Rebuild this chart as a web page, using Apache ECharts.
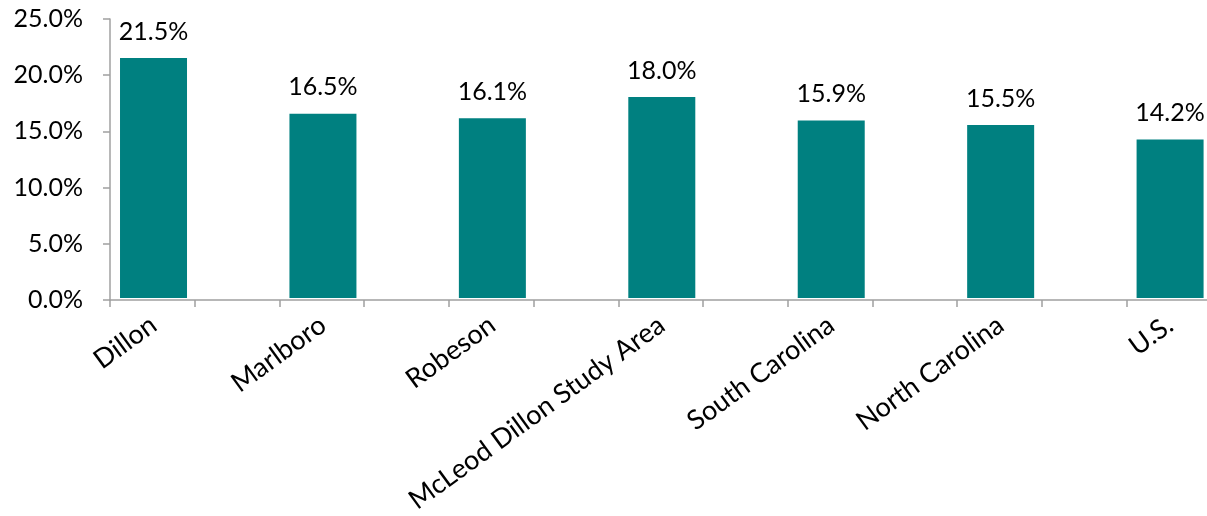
<!DOCTYPE html>
<html>
<head>
<meta charset="utf-8">
<script src="https://cdn.jsdelivr.net/npm/echarts@6/dist/echarts.min.js"></script>
<style>
html,body{margin:0;padding:0;background:#fff;overflow:hidden;width:1207px;height:516px;}
#chart{width:1310px;height:516px;}
</style>
</head>
<body>
<div id="chart"></div>
<script>
var categories = ["Dillon", "Marlboro", "Robeson", "McLeod Dillon Study Area", "South Carolina", "North Carolina", "U.S."];
var values = [21.5, 16.5, 16.1, 18.0, 15.9, 15.5, 14.2];
var yTicks = [0, 5, 10, 15, 20, 25];

var FONT = "Lato";
var FS = 25;
var chart = echarts.init(document.getElementById('chart'), null, {renderer: 'canvas'});
var option = {
  backgroundColor: '#fff',
  animation: false,
  grid: [
    {left: 110, top: 19, width: 1186, height: 281},
    {left: 68.8, top: 19, width: 1186, height: 281}
  ],
  xAxis: [
    {
      gridIndex: 0, type: 'value', min: 0, max: 14, interval: 1,
      axisLine: {show: true, lineStyle: {color: '#a0a0a0', width: 1.5}},
      axisTick: {show: true, length: 7, lineStyle: {color: '#a0a0a0', width: 1.5}},
      axisLabel: {show: false},
      splitLine: {show: false}
    },
    {
      gridIndex: 1, type: 'category', data: categories,
      axisLine: {show: false}, axisTick: {show: false},
      axisLabel: {rotate: 36, margin: 24, color: '#000', fontFamily: FONT, fontSize: 27, interval: 0}
    }
  ],
  yAxis: [
    {
      gridIndex: 0, type: 'value', min: yTicks[0], max: yTicks[yTicks.length - 1], interval: 5,
      axisLine: {show: true, lineStyle: {color: '#a0a0a0', width: 1.5}},
      axisTick: {show: true, length: 7, lineStyle: {color: '#a0a0a0', width: 1.5}},
      axisLabel: {margin: 27, color: '#000', fontFamily: FONT, fontSize: FS,
        formatter: function (v) { return v.toFixed(1) + '%'; }},
      splitLine: {show: false}
    },
    {
      gridIndex: 1, type: 'value', min: 0, max: 25, interval: 5, show: false
    }
  ],
  series: [{
    type: 'bar',
    xAxisIndex: 1, yAxisIndex: 1,
    data: values,
    barWidth: 67,
    itemStyle: {color: '#008080'},
    label: {
      show: true, position: 'top', distance: 14,
      color: '#000', fontFamily: FONT, fontSize: FS,
      formatter: function (p) { return p.value.toFixed(1) + '%'; }
    }
  }]
};
chart.setOption(option);
</script>
</body>
</html>
